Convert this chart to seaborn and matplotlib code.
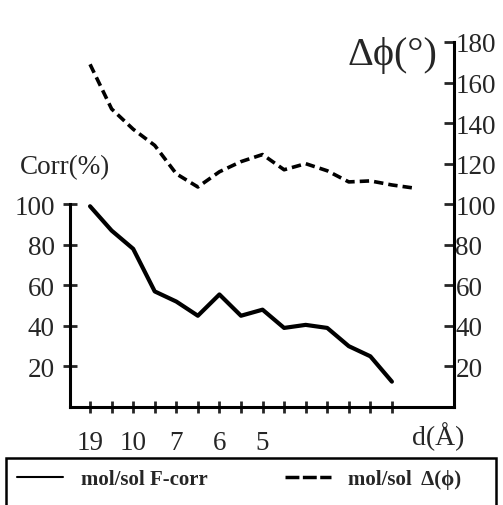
import numpy as np
import pandas as pd
from matplotlib import pyplot as plt
from matplotlib.lines import Line2D
from matplotlib.patches import Rectangle
import seaborn as sns

# resolution shells (index along the d axis)
shell = list(range(16))
corr = [99, 87, 78, 57, 52, 45, 55.5, 45, 48, 39, 40.5, 39, 30, 25, 12.5]
dphi = [169, 147, 137, 129, 115, 108.5, 116, 121, 124.5, 117, 120, 116.5, 111, 111.5, 109.5, 108]
d_labels = ['19', '', '10', '', '7', '', '6', '', '5', '', '', '', '', '', '']
corr_ticks = [20, 40, 60, 80, 100]
dphi_ticks = [20, 40, 60, 80, 100, 120, 140, 160, 180]

sns.set_style('ticks')
plt.rcParams['font.family'] = ['Liberation Serif', 'DejaVu Serif']

fig = plt.figure(figsize=(5.03, 5.06), dpi=100)
ax = fig.add_axes([70 / 503, 1 - 408 / 506, (454 - 70) / 503, (408 - 43) / 506])
ax2 = ax.twinx()

sns.lineplot(x=shell[:len(corr)], y=corr, ax=ax, color='black', lw=3)
sns.lineplot(x=shell, y=dphi, ax=ax2, color='black', lw=2.6, linestyle=(0, (2.6, 1.4)))

for a in (ax, ax2):
    a.set_ylim(0, 180)
    a.set_xlim(-0.93, 16.88)
    a.set_ylabel('')
    for s in a.spines.values():
        s.set_linewidth(2.2)
        s.set_color('black')

ax.spines['top'].set_visible(False)
ax.spines['right'].set_visible(False)
ax.spines['left'].set_bounds(0, 100)
ax.set_yticks(corr_ticks)
ax.set_xticks(range(len(d_labels)))
ax.set_xticklabels(d_labels)
ax.tick_params(axis='y', direction='inout', length=10, width=2, labelsize=19.5, pad=6)
ax.tick_params(axis='x', direction='inout', length=9, width=2, labelsize=19.5, pad=12)

ax2.spines['top'].set_visible(False)
ax2.spines['left'].set_visible(False)
ax2.spines['bottom'].set_visible(False)
ax2.set_yticks(dphi_ticks)
ax2.tick_params(axis='y', direction='in', length=7, width=2, labelsize=19.5, pad=1)

fig.text(20 / 503, 1 - 168 / 506, 'Corr(%)', fontsize=19.5, va='center', ha='left')
fig.text(392 / 503, 1 - 55 / 506, 'Δϕ(°)', fontsize=29, va='center', ha='center')
fig.text(438 / 503, 1 - 437 / 506, 'd(Å)', fontsize=20, va='center', ha='center')

# legend box runs off the bottom edge as in the scan
fig.patches.append(Rectangle((6 / 503, -0.05), 490 / 503, 0.05 + 47 / 506,
                             transform=fig.transFigure, fill=False,
                             edgecolor='black', lw=1.8))
handles = [Line2D([], [], color='black', lw=1.5),
           Line2D([], [], color='black', lw=2.5, linestyle=(0, (4, 1)))]
leg = fig.legend(handles, ['mol/sol F-corr', 'mol/sol  Δ(ϕ)'], loc='upper left',
                 bbox_to_anchor=(6 / 503, 1 - 459 / 506), ncol=2, frameon=False,
                 prop={'size': 15, 'weight': 'bold'}, borderpad=0.55,
                 handlelength=2.2, handletextpad=0.85, columnspacing=3.7,
                 borderaxespad=0)

fig.savefig('out.png', dpi=100, facecolor='white')
